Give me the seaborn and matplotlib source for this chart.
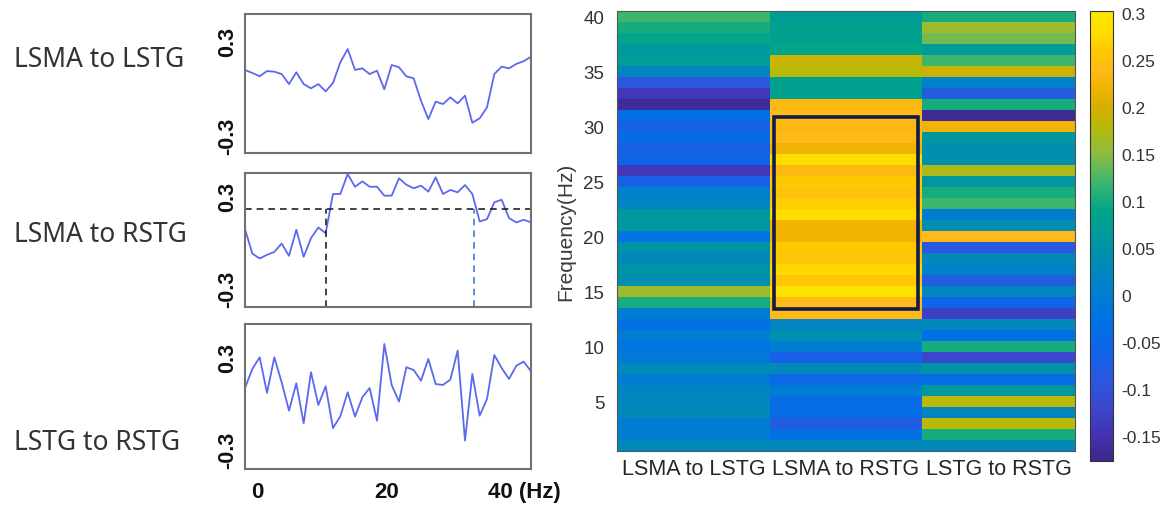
import numpy as np
import pandas as pd
import matplotlib
matplotlib.use("Agg")
import matplotlib.pyplot as plt
import seaborn as sns
from matplotlib.colors import LinearSegmentedColormap
from matplotlib.patches import Rectangle

sns.set_theme(style="white")
plt.rcParams["font.family"] = ["Liberation Sans", "DejaVu Sans"]

# ---------------- data ----------------
freqs = list(range(1, 41))
pair_names = ["LSMA to LSTG", "LSMA to RSTG", "LSTG to RSTG"]

# connectivity curves, 1..40 Hz
curve_lsma_lstg = [0.115, 0.096, 0.075, 0.108, 0.104, 0.089, 0.026, 0.100, 0.026, -0.001,
                   0.026, -0.020, 0.033, 0.163, 0.247, 0.115, 0.125, 0.089, 0.110, -0.007,
                   0.146, 0.132, 0.075, 0.062, -0.079, -0.195, -0.085, -0.100, -0.058, -0.096,
                   -0.047, -0.218, -0.190, -0.121, 0.089, 0.136, 0.125, 0.153, 0.170, 0.199]
curve_lsma_rstg = [0.083, -0.075, -0.107, -0.083, -0.064, -0.010, -0.090, 0.079, -0.096, 0.025,
                   0.094, 0.057, 0.311, 0.311, 0.440, 0.358, 0.393, 0.358, 0.358, 0.300,
                   0.300, 0.413, 0.371, 0.348, 0.365, 0.326, 0.419, 0.311, 0.337, 0.322,
                   0.369, 0.311, 0.133, 0.148, 0.257, 0.274, 0.155, 0.127, 0.144, 0.127]
curve_lstg_rstg = [0.099, 0.224, 0.300, 0.067, 0.300, 0.136, -0.049, 0.130, -0.132, 0.202,
                   -0.012, 0.110, -0.163, -0.086, 0.071, -0.088, 0.038, 0.099, -0.115, 0.387,
                   0.119, 0.010, 0.235, 0.217, 0.147, 0.289, 0.125, 0.119, 0.154, 0.344,
                   -0.245, 0.191, -0.082, 0.027, 0.315, 0.230, 0.158, 0.245, 0.272, 0.208]
threshold = 0.213
cross_lo = 12.1
cross_hi = 32.25

# heatmap values, listed from 40 Hz down to 1 Hz
hm_lsma_lstg = [0.12, 0.10, 0.09, 0.06, 0.07, 0.02, -0.09, -0.14, -0.165, -0.03,
                -0.07, -0.04, -0.07, -0.06, -0.14, -0.07, 0.01, 0.02, 0.06, 0.06,
                -0.02, 0.05, 0.03, 0.05, 0.04, 0.16, 0.10, 0.00, -0.03, 0.00,
                -0.02, -0.01, 0.03, 0.00, 0.02, 0.025, 0.03, 0.00, 0.00, 0.03]
hm_lsma_rstg = [0.07, 0.08, 0.08, 0.09, 0.19, 0.18, 0.08, 0.08, 0.235, 0.24,
                0.235, 0.24, 0.22, 0.28, 0.235, 0.26, 0.25, 0.265, 0.28, 0.22,
                0.22, 0.26, 0.255, 0.275, 0.255, 0.29, 0.24, 0.24, 0.02, 0.04,
                0.00, -0.07, 0.03, -0.05, 0.00, -0.04, -0.04, -0.08, -0.03, 0.03]
hm_lstg_rstg = [0.10, 0.16, 0.14, 0.07, 0.12, 0.19, 0.01, -0.08, 0.10, -0.17,
                0.22, 0.06, 0.04, 0.04, 0.17, 0.06, 0.10, 0.12, 0.00, 0.04,
                0.24, -0.09, 0.03, 0.01, -0.08, 0.02, -0.06, -0.13, 0.03, -0.03,
                0.10, -0.12, 0.05, -0.04, 0.06, 0.18, 0.02, 0.18, 0.10, 0.03]
heat_freqs = list(range(40, 0, -1))
box_freq_lo, box_freq_hi = 13.45, 30.9
cbar_ticks = [0.3, 0.25, 0.2, 0.15, 0.1, 0.05, 0, -0.05, -0.1, -0.15]
vmin, vmax = -0.177, 0.302

# ---------------- colormap (parula-like) ----------------
anchor_vals = [-0.177, -0.15, -0.12, -0.09, -0.06, -0.03, 0.0, 0.03, 0.06, 0.09,
               0.12, 0.15, 0.18, 0.20, 0.22, 0.24, 0.26, 0.28, 0.302]
anchor_rgb = [(62, 38, 140), (66, 50, 175), (60, 70, 205), (42, 88, 222), (15, 100, 232),
              (0, 112, 228), (0, 125, 210), (0, 137, 185), (0, 152, 158), (0, 166, 135),
              (60, 182, 110), (140, 188, 65), (185, 185, 10), (215, 175, 0), (240, 180, 0),
              (255, 186, 25), (255, 200, 0), (255, 220, 0), (250, 232, 0)]
pos = [(v - vmin) / (vmax - vmin) for v in anchor_vals]
parula_like = LinearSegmentedColormap.from_list(
    "parula_like", list(zip(pos, [tuple(c / 255 for c in rgb) for rgb in anchor_rgb])))

# ---------------- figure ----------------
W, H = 1166, 510
fig = plt.figure(figsize=(W / 100, H / 100), dpi=100)
fig.patch.set_facecolor("white")


def px_axes(left, top, right, bottom):
    return fig.add_axes([left / W, 1 - bottom / H, (right - left) / W, (bottom - top) / H])


line_color = "#5c68f0"
panels = [
    (curve_lsma_lstg, (15, 154), (-0.409, 0.468)),
    (curve_lsma_rstg, (174, 308), (-0.421, 0.447)),
    (curve_lstg_rstg, (325, 470), (-0.431, 0.518)),
]
axes_lines = []
for curve, (top, bottom), ylim in panels:
    ax = px_axes(245, top, 531, bottom)
    sns.lineplot(x=freqs, y=curve, ax=ax, color=line_color, lw=1.3)
    ax.set_xlim(1, 40)
    ax.set_ylim(*ylim)
    ax.set_yticks([-0.3, 0.3])
    ax.set_yticklabels(["-0.3", "0.3"], rotation=90, va="center",
                       fontweight="bold", fontsize=15.5, color="#111111")
    ax.tick_params(axis="y", length=0, pad=5)
    ax.set_xticks([])
    ax.set_xlabel("")
    ax.set_ylabel("")
    for s in ax.spines.values():
        s.set_visible(True)
        s.set_color("#707070")
        s.set_linewidth(1.5)
    axes_lines.append(ax)

ax2 = axes_lines[1]
y0 = ax2.get_ylim()[0]
ax2.axhline(threshold, color="#222222", ls=(0, (4, 3)), lw=1.2)
ax2.vlines(cross_lo, y0, threshold, color="#222222", ls=(0, (4, 3)), lw=1.2)
ax2.vlines(cross_hi, y0, threshold, color="#3a7fd0", ls=(0, (4, 3)), lw=1.2)

ax3 = axes_lines[2]
ax3.set_xticks([2.64, 20.36, 39.05])
ax3.set_xticklabels(["0", "20", "40 (Hz)"], fontweight="bold", fontsize=16, color="#111111")
ax3.tick_params(axis="x", length=0, pad=9)

label_y = [60, 235, 443]
for name, yy in zip(pair_names, label_y):
    fig.text(14 / W, 1 - yy / H, name, family=["Noto Sans", "DejaVu Sans"],
             fontsize=19, color="#333333", va="center", ha="left")

# ---------------- heatmap ----------------
df = pd.DataFrame({pair_names[0]: hm_lsma_lstg,
                   pair_names[1]: hm_lsma_rstg,
                   pair_names[2]: hm_lstg_rstg}, index=heat_freqs)
axh = px_axes(617, 12, 1075, 452)
cax = px_axes(1090, 12, 1113, 462)
sns.heatmap(df, ax=axh, cbar_ax=cax, cmap=parula_like, vmin=vmin, vmax=vmax,
            xticklabels=True, yticklabels=False)
ytick_freqs = [40, 35, 30, 25, 20, 15, 10, 5]
axh.set_yticks([heat_freqs.index(f) + 0.5 for f in ytick_freqs])
axh.set_yticklabels([str(f) for f in ytick_freqs], fontsize=13.5, color="#333333")
axh.tick_params(axis="y", direction="in", length=4, width=0.8, left=True, right=True,
                color="#222222", pad=9)
axh.set_xticklabels(pair_names, rotation=0, fontsize=15.5, color="#262626")
axh.tick_params(axis="x", length=0, pad=5)
axh.set_ylabel("Frequency(Hz)", fontsize=15, color="#3a3a3a", labelpad=6)
axh.set_xlabel("")
for s in axh.spines.values():
    s.set_visible(True)
    s.set_color("#555555")
    s.set_linewidth(0.8)

y_a = 40.5 - box_freq_hi
y_b = 40.5 - box_freq_lo
axh.add_patch(Rectangle((1.03, y_a), 0.94, y_b - y_a, fill=False,
                        edgecolor="#101b48", lw=2.6, zorder=5))

cbar = axh.collections[0].colorbar
cbar.set_ticks(cbar_ticks)
cbar.set_ticklabels(["0.3", "0.25", "0.2", "0.15", "0.1", "0.05", "0",
                     "-0.05", "-0.1", "-0.15"])
cax.tick_params(direction="in", length=4, width=0.8, right=True, left=False,
                labelsize=12.5, labelcolor="#333333", color="#222222", pad=6)
cbar.outline.set_visible(True)
cbar.outline.set_edgecolor("#333333")
cbar.outline.set_linewidth(0.8)

fig.savefig("out.png", dpi=100, facecolor="white")
